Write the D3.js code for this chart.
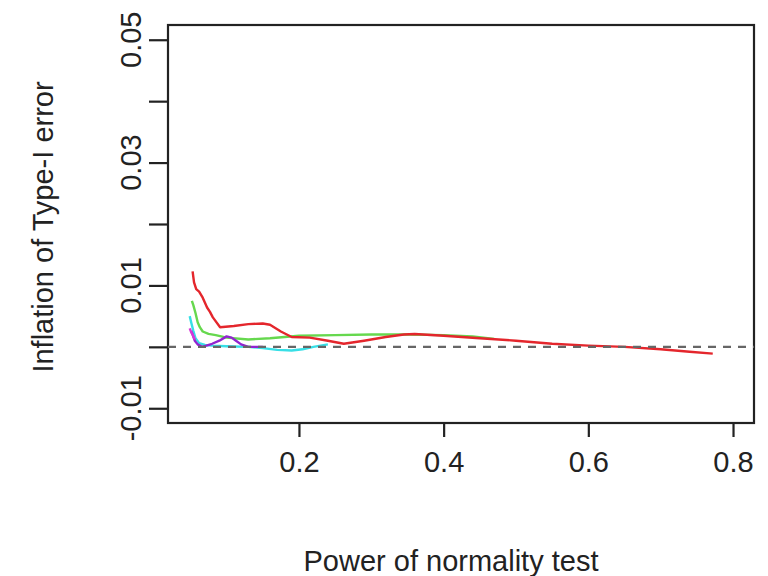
<!DOCTYPE html>
<html>
<head>
<meta charset="utf-8">
<script src="https://cdn.jsdelivr.net/npm/d3@7"></script>
<style>
  body { margin: 0; background: #fff; }
  text { font-family: "Liberation Sans", Arial, sans-serif; fill: #222; }
</style>
</head>
<body>
<script>
// x = power of normality test, y = inflation of Type-I error
var redX = [0.053, 0.055, 0.058, 0.062, 0.067, 0.073, 0.077, 0.081, 0.091, 0.11, 0.13, 0.15, 0.16, 0.175, 0.19, 0.215, 0.24, 0.262, 0.29, 0.32, 0.345, 0.36, 0.4, 0.45, 0.5, 0.55, 0.6, 0.65, 0.7, 0.74, 0.772];
var redY = [0.0123, 0.0105, 0.0094, 0.0090, 0.0080, 0.0064, 0.0057, 0.0048, 0.0032, 0.0034, 0.0037, 0.0038, 0.0036, 0.0025, 0.0016, 0.0015, 0.0010, 0.0005, 0.0010, 0.0016, 0.0020, 0.0021, 0.0018, 0.0014, 0.0010, 0.0005, 0.0002, 0.0000, -0.0004, -0.0008, -0.0011];
var greenX = [0.052, 0.054, 0.057, 0.06, 0.063, 0.067, 0.075, 0.085, 0.1, 0.13, 0.16, 0.2, 0.25, 0.3, 0.35, 0.4, 0.44, 0.47];
var greenY = [0.0075, 0.0068, 0.0055, 0.0040, 0.0032, 0.0025, 0.0021, 0.0019, 0.0015, 0.0012, 0.0014, 0.0018, 0.0019, 0.0020, 0.0020, 0.0019, 0.0017, 0.0013];
var cyanX = [0.049, 0.051, 0.054, 0.057, 0.062, 0.07, 0.08, 0.1, 0.13, 0.15, 0.17, 0.19, 0.205, 0.22, 0.24];
var cyanY = [0.0050, 0.0040, 0.0026, 0.0014, 0.0006, 0.0003, 0.0002, 0.0001, 0.0000, -0.0002, -0.0005, -0.0006, -0.0004, 0.0000, 0.0004];
var purpleX = [0.051, 0.053, 0.056, 0.06, 0.066, 0.072, 0.08, 0.09, 0.1, 0.107, 0.113, 0.12, 0.13, 0.15];
var purpleY = [0.0026, 0.0020, 0.0010, 0.0004, 0.0000, 0.0002, 0.0005, 0.0010, 0.0017, 0.0015, 0.0010, 0.0004, 0.0000, 0.0000];
var magentaX = [0.049, 0.051, 0.053, 0.056];
var magentaY = [0.0030, 0.0024, 0.0020, 0.0012];

var xTicks = [0.2, 0.4, 0.6, 0.8];
var yTicks = [-0.01, 0, 0.01, 0.02, 0.03, 0.04, 0.05];
var yLabels = ["-0.01", "0.01", "0.03", "0.05"];

var width = 768, height = 576, fontSize = 29;
var box = { left: 168, right: 754, top: 25, bottom: 423 };

var svg = d3.select("body").append("svg")
  .attr("width", width)
  .attr("height", height);

var x = d3.scaleLinear().domain([0.019, 0.829]).range([box.left, box.right]);
var y = d3.scaleLinear().domain([-0.0124, 0.0524]).range([box.bottom, box.top]);

// plot box
svg.append("rect")
  .attr("x", box.left).attr("y", box.top)
  .attr("width", box.right - box.left).attr("height", box.bottom - box.top)
  .attr("fill", "none").attr("stroke", "#222").attr("stroke-width", 2.2);

// x axis
var xAxis = svg.append("g")
  .attr("transform", "translate(0," + box.bottom + ")")
  .call(d3.axisBottom(x).tickValues(xTicks).tickSize(14).tickSizeOuter(0).tickPadding(14).tickFormat(d3.format(".1f")));
xAxis.select(".domain").remove();
xAxis.selectAll("line").attr("stroke", "#222").attr("stroke-width", 2.2);
xAxis.selectAll("text").attr("font-size", fontSize).attr("fill", "#222")
  .attr("font-family", "Liberation Sans, Arial, sans-serif");

// y axis
var yAxis = svg.append("g")
  .attr("transform", "translate(" + box.left + ",0)")
  .call(d3.axisLeft(y).tickValues(yTicks).tickSize(19).tickSizeOuter(0).tickFormat(""));
yAxis.select(".domain").remove();
yAxis.selectAll("line").attr("stroke", "#222").attr("stroke-width", 2.2);

svg.selectAll(".ylab")
  .data(yLabels)
  .enter().append("text")
  .attr("class", "ylab")
  .attr("transform", function (d) { return "translate(141," + y(+d) + ") rotate(-90)"; })
  .attr("text-anchor", "middle")
  .attr("font-size", fontSize)
  .text(function (d) { return d; });

// axis titles
svg.append("text")
  .attr("x", 451)
  .attr("y", 571)
  .attr("text-anchor", "middle")
  .attr("font-size", fontSize)
  .text("Power of normality test");

svg.append("text")
  .attr("transform", "translate(53,227) rotate(-90)")
  .attr("text-anchor", "middle")
  .attr("font-size", fontSize)
  .text("Inflation of Type-I error");

// series
var series = [
  { xs: cyanX, ys: cyanY, color: "#38dfe6" },
  { xs: greenX, ys: greenY, color: "#66d84e" },
  { xs: purpleX, ys: purpleY, color: "#9224d0" },
  { xs: magentaX, ys: magentaY, color: "#d838d8" },
  { xs: redX, ys: redY, color: "#e4262c" }
];

var line = d3.line()
  .x(function (d) { return x(d[0]); })
  .y(function (d) { return y(d[1]); });

svg.selectAll(".series")
  .data(series)
  .enter().append("path")
  .attr("class", "series")
  .attr("fill", "none")
  .attr("stroke", function (d) { return d.color; })
  .attr("stroke-width", 2.4)
  .attr("stroke-linejoin", "round")
  .attr("d", function (d) { return line(d3.zip(d.xs, d.ys)); });

// reference line at zero
svg.append("line")
  .attr("x1", box.left).attr("x2", box.right)
  .attr("y1", y(0)).attr("y2", y(0))
  .attr("stroke", "#666")
  .attr("stroke-width", 2.2)
  .attr("stroke-dasharray", "8,7");
</script>
</body>
</html>
